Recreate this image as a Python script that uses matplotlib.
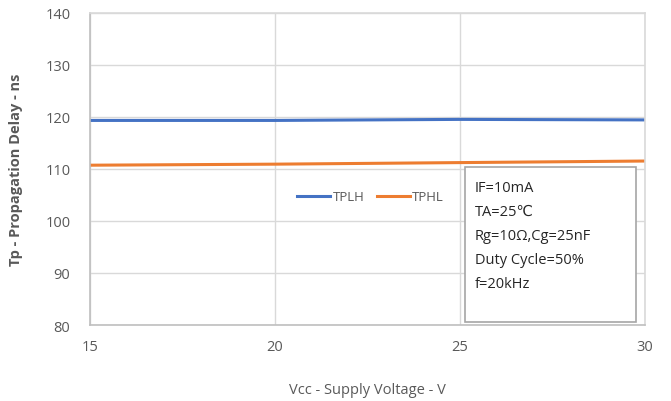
import numpy as np
import matplotlib.pyplot as plt

plt.rcParams['font.family'] = ['Open Sans', 'DejaVu Sans']

# supply voltage sweep and measured delays (ns)
vcc = [15, 20, 25, 30]
tplh = [119.3, 119.3, 119.5, 119.4]
tphl = [110.7, 110.9, 111.2, 111.5]

conditions = ["IF=10mA", "TA=25\u2103", "Rg=10\u03a9,Cg=25nF", "Duty Cycle=50%", "f=20kHz"]

grey = '#595959'
grid_c = '#d9d9d9'

fig = plt.figure(figsize=(6.71, 4.02), dpi=100)
ax = fig.add_axes([0.134, 0.189, 0.827, 0.777])

ax.plot(vcc, tplh, color='#4472c4', lw=2.2, label='TPLH')
ax.plot(vcc, tphl, color='#ed7d31', lw=2.2, label='TPHL')

ax.set_xlim(15, 30)
ax.set_ylim(80, 140)
ax.set_xticks(np.arange(15, 31, 5))
ax.set_yticks(np.arange(80, 141, 10))
ax.grid(True, color=grid_c, lw=1)
ax.set_axisbelow(True)
for s in ax.spines.values():
    s.set_color(grid_c)
    s.set_linewidth(1.2)
ax.spines['left'].set_color('#bfbfbf')
ax.spines['bottom'].set_color('#bfbfbf')
ax.tick_params(length=0, colors=grey, labelsize=10.5, pad=10)
ax.tick_params(axis='y', pad=14)

ax.set_xlabel('Vcc - Supply Voltage - V', color=grey, fontsize=10.5, labelpad=20)
ax.set_ylabel('Tp - Propagation Delay - ns', color=grey, fontsize=10.5,
              fontweight='bold', labelpad=16)

leg = ax.legend(loc='center', bbox_to_anchor=(0.506, 0.41), ncol=2, frameon=False,
                fontsize=9.5, handlelength=2.5, columnspacing=1.0, handletextpad=0.15)
for t in leg.get_texts():
    t.set_color(grey)

# test conditions box
box = plt.Rectangle((0.676, 0.01), 0.308, 0.496, transform=ax.transAxes,
                    facecolor='white', edgecolor='#a6a6a6', lw=1.2, zorder=3)
ax.add_patch(box)
ax.text(0.694, 0.465, '\n'.join(conditions), transform=ax.transAxes,
        va='top', ha='left', fontsize=10.5, color='#262626', linespacing=1.82, zorder=4)

fig.savefig('out.png')
